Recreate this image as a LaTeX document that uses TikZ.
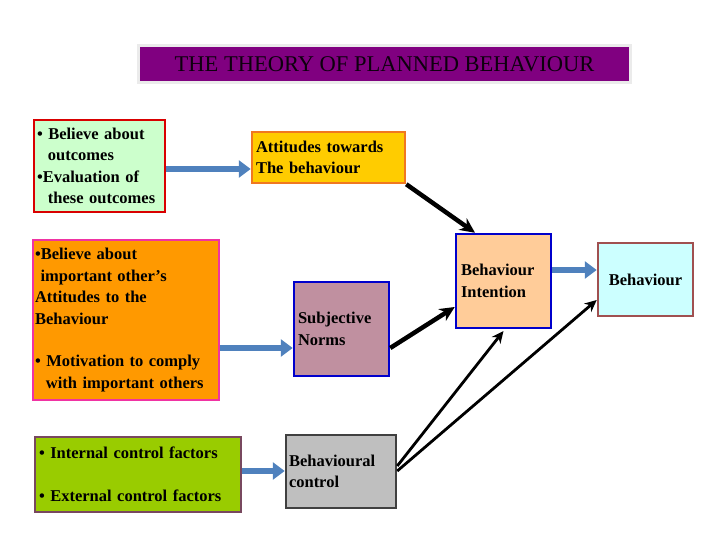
\documentclass[tikz,border=0pt]{standalone}
\usepackage{fontspec}
\setmainfont{Liberation Serif}
\usetikzlibrary{arrows.meta}

\definecolor{titlepurple}{HTML}{800080}
\definecolor{palegreen}{HTML}{CCFFCC}
\definecolor{orangefill}{HTML}{FF9900}
\definecolor{limefill}{HTML}{99CC00}
\definecolor{attfill}{HTML}{FFCC00}
\definecolor{attline}{HTML}{F07820}
\definecolor{snfill}{HTML}{C090A0}
\definecolor{peachfill}{HTML}{FFCC99}
\definecolor{cyanfill}{HTML}{CCFFFF}
\definecolor{brownline}{HTML}{A05050}
\definecolor{arrowblue}{HTML}{4F81BD}

\tikzset{
  box/.style={draw, line width=2.5pt, inner sep=0pt, align=left,
    font=\bfseries\fontsize{16.5}{21.5}\selectfont},
  blockarrow/.style={draw=arrowblue!70!black, line width=6pt, arrowblue,
    -{Triangle[length=12pt,width=17pt]}},
  bigarrow/.style={line width=4.5pt, -{Stealth[length=15pt,width=14pt]}},
  thinarrow/.style={line width=2.8pt, -{Stealth[length=12pt,width=11pt]}}
}

\begin{document}
\begin{tikzpicture}[x=1pt,y=-1pt]
\useasboundingbox (0,0) rectangle (720,540);

% Title
\node[draw=black!8, line width=3pt, fill=titlepurple, minimum width=492pt, minimum height=37pt,
  font=\fontsize{22.5}{25}\selectfont, text=black!90!titlepurple] (title) at (384.5,64) {THE THEORY OF PLANNED BEHAVIOUR};

% Left column
\node[box, draw=red!85!black, fill=palegreen, minimum width=131pt, minimum height=92pt,
  text width=125pt] (belief) at (99.5,166) {\textbullet\ Believe about\\\ \ outcomes\\\textbullet Evaluation of\\\ \ these outcomes};
\node[box, draw=magenta!80, fill=orangefill, minimum width=186pt, minimum height=160pt,
  text width=182pt] (norms) at (126,320) {\textbullet Believe about\\\ important other’s\\Attitudes to the\\Behaviour\\[21pt]\textbullet\ Motivation to comply\\\ \ with important others};
\node[box, draw=black!60!magenta, fill=limefill, minimum width=206pt, minimum height=75pt,
  text width=198pt] (control) at (138,474.5) {\textbullet\ Internal control factors\\[21pt]\textbullet\ External control factors};

% Middle column
\node[box, draw=attline, fill=attfill, minimum width=153pt, minimum height=51pt,
  text width=145pt] (att) at (328.5,157.5) {Attitudes towards\\The behaviour};
\node[box, draw=blue!80!black, fill=snfill, minimum width=95pt, minimum height=94pt,
  text width=87pt] (sn) at (341.5,329) {Subjective\\Norms};
\node[box, draw=black!75, fill=black!25, minimum width=110pt, minimum height=73pt,
  text width=104pt] (pbc) at (341,471.5) {Behavioural\\control};

% Right column
\node[box, draw=blue!80!black, fill=peachfill, minimum width=95pt, minimum height=94pt,
  text width=85pt] (intent) at (503.5,281) {Behaviour\\Intention};
\node[box, draw=brownline, fill=cyanfill, minimum width=95pt, minimum height=73pt,
  align=center] (beh) at (645.5,279.5) {Behaviour};

% Connectors
\coordinate (y1) at (0,169);
\coordinate (y2) at (0,348);
\coordinate (y3) at (0,471);
\coordinate (y4) at (0,270);
\coordinate (y5) at (0,307);
\coordinate (y6) at (0,331);
\coordinate (y7) at (0,300);
\coordinate (x1) at (475,0);
\coordinate (y8) at (0,466);
\draw[blockarrow] (belief.east |- y1) -- (att.west |- y1);
\draw[blockarrow] (norms.east |- y2) -- (sn.west |- y2);
\draw[blockarrow] (control.east |- y3) -- (pbc.west |- y3);
\draw[blockarrow] (intent.east |- y4) -- (beh.west |- y4);

\draw[bigarrow] (att.south east) -- (intent.north west -| x1);
\draw[bigarrow] (sn.east |- y2) -- (intent.west |- y5);
\draw[thinarrow] (pbc.east |- y8) -- (intent.south |- y6);
\draw[thinarrow] (pbc.east |- y3) -- (beh.west |- y7);
\end{tikzpicture}
\end{document}
